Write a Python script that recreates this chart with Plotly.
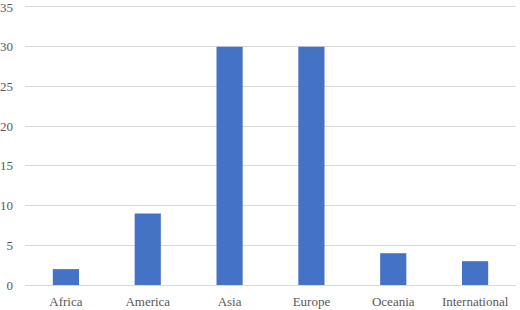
import plotly.graph_objects as go

categories = ["Africa", "America", "Asia", "Europe", "Oceania", "International"]
values = [2, 9, 30, 30, 4, 3]
y_ticks = [0, 5, 10, 15, 20, 25, 30, 35]

fig = go.Figure(go.Bar(x=categories, y=values, marker=dict(color="#4472C4", line=dict(width=0))))
fig.update_layout(
    width=520, height=310,
    margin=dict(l=25, r=4, t=3, b=25),
    plot_bgcolor="white", paper_bgcolor="white",
    bargap=0.68,
    showlegend=False,
    font=dict(family="Liberation Serif", size=13, color="#595959"),
)
fig.update_yaxes(range=[0, 35.5], tickvals=y_ticks, showgrid=True, gridcolor="#d9d9d9", gridwidth=1,
                 zeroline=True, zerolinecolor="#d9d9d9", zerolinewidth=1, showline=False, ticks="",
                 ticklabelstandoff=11, automargin=False, ticklabeloverflow="allow")
fig.update_xaxes(showline=False, ticks="", showgrid=False, ticklabelstandoff=7, automargin=False,
                 ticklabeloverflow="allow")
fig.write_html("out.html")
